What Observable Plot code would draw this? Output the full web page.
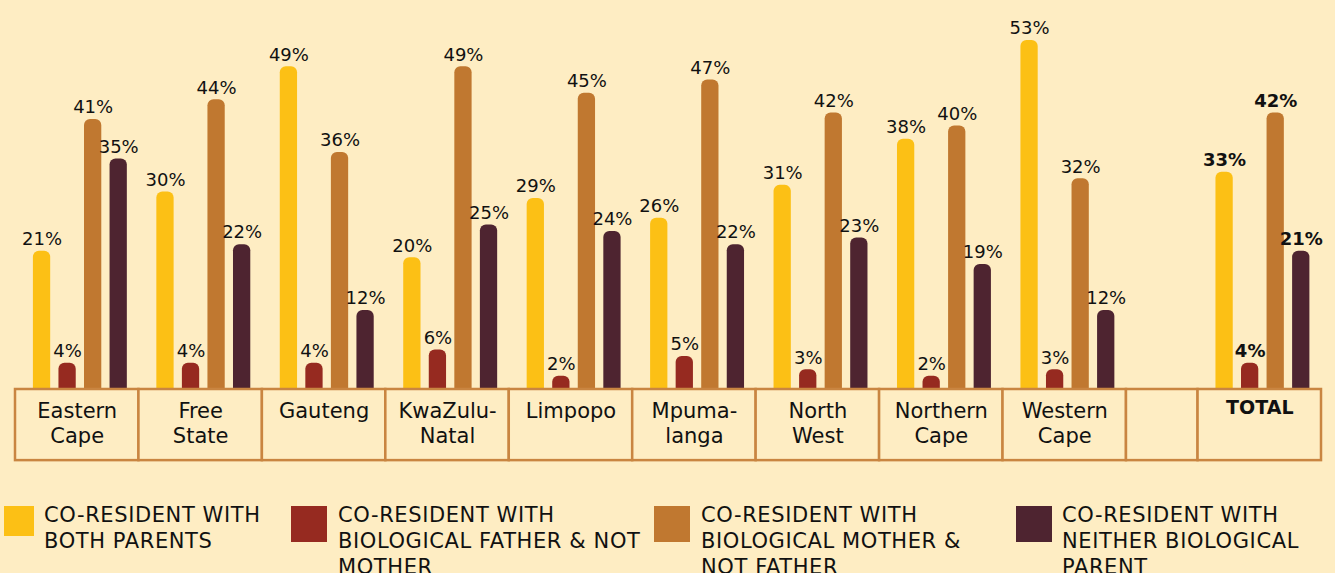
<!DOCTYPE html>
<html><head><meta charset="utf-8">
<script src="https://cdn.jsdelivr.net/npm/d3@7"></script>
<script src="https://cdn.jsdelivr.net/npm/@observablehq/plot@0.6"></script>
<style>
html,body{margin:0;padding:0;background:#FEEDC3;}
body{width:1335px;height:573px;overflow:hidden;font-family:"DejaVu Sans",sans-serif;}
#chart svg{display:block;}
#legend{position:relative;height:110px;margin-top:32px;}
.item{position:absolute;top:0;display:flex;align-items:flex-start;}
.sw{width:36px;height:36px;margin-top:4px;flex:none;}
.lab{font-size:21px;letter-spacing:0.6px;line-height:26px;white-space:pre-line;color:#111;}
</style></head><body>
<div id="chart"></div><div id="legend"></div>
<script>
const regions = ["Eastern Cape","Free State","Gauteng","KwaZulu-Natal","Limpopo","Mpumalanga","North West","Northern Cape","Western Cape","TOTAL"];
const regionLabels = ["Eastern\nCape","Free\nState","Gauteng","KwaZulu-\nNatal","Limpopo","Mpuma-\nlanga","North\nWest","Northern\nCape","Western\nCape","TOTAL"];
const seriesNames = ["CO-RESIDENT WITH\nBOTH PARENTS","CO-RESIDENT WITH\nBIOLOGICAL FATHER & NOT\nMOTHER","CO-RESIDENT WITH\nBIOLOGICAL MOTHER &\nNOT FATHER","CO-RESIDENT WITH\nNEITHER BIOLOGICAL\nPARENT"];
const seriesColors = ["#FCC015","#962A20","#C07830","#4E2430"];
const bothParents = [21,30,49,20,29,26,31,38,53,33];
const fatherOnly  = [4,4,4,6,2,5,3,2,3,4];
const motherOnly  = [41,44,36,49,45,47,42,40,32,42];
const neither     = [35,22,12,25,24,22,23,19,12,21];
const seriesValues = [bothParents, fatherOnly, motherOnly, neither];

const BG = "#FEEDC3";
const FONT = "DejaVu Sans, sans-serif";
const gapWidth = 0.58;
const columns = [...regionLabels.slice(0, 9), "", regionLabels[9]];
let acc = 0;
const cells = columns.map(label => {
  const w = label === "" ? gapWidth : 1;
  const c = {label, x1: acc, x2: acc + w, mid: acc + w / 2};
  acc += w;
  return c;
});
const totalUnits = acc;
const regionCells = cells.filter(c => c.label !== "");
const bars = [];
regionCells.forEach((cell, r) => {
  seriesNames.forEach((s, k) => {
    const center = cell.x1 + 0.215 + 0.207 * k;
    bars.push({region: regions[r], series: s, value: seriesValues[k][r], xc: center,
      x1: center - 0.07, x2: center + 0.07, total: regions[r] === "TOTAL"});
  });
});

const chart = Plot.plot({
  width: 1335, height: 470, margin: 0,
  style: {background: "transparent", fontFamily: FONT, color: "#111"},
  x: {domain: [0, totalUnits], range: [15, 1321], axis: null},
  y: {domain: [0, 53], range: [389, 40], axis: null},
  color: {domain: seriesNames, range: seriesColors},
  marks: [
    Plot.rect(bars, {x1: "x1", x2: "x2", y1: -2, y2: "value", fill: "series", rx: 6}),
    Plot.rect(cells, {x1: "x1", x2: "x2", y1: 0, y2: -10.8, fill: BG, stroke: "#C98541", strokeWidth: 2.5}),
    Plot.text(cells.filter(c => c.label !== "TOTAL"), {x: "mid", y: -1.6, text: "label", lineAnchor: "top", fontSize: 21, lineHeight: 1.2, fill: "#111"}),
    Plot.text(cells.filter(c => c.label === "TOTAL"), {x: "mid", y: -1.6, text: "label", lineAnchor: "top", fontSize: 19, fontWeight: "bold", fill: "#111"}),
    Plot.text(bars.filter(d => !d.total), {x: "xc", y: "value", text: d => d.value + "%", dy: -12, fontSize: 18, fill: "#111"}),
    Plot.text(bars.filter(d => d.total), {x: "xc", y: "value", text: d => d.value + "%", dy: -12, fontSize: 18, fontWeight: "bold", fill: "#111"})
  ]
});
document.getElementById("chart").appendChild(chart);

const legendLeft = [4, 291, 654, 1016];
const swatchSize = [30, 36, 36, 36];
const textLeft = [44, 338, 701, 1062];
const legend = document.getElementById("legend");
seriesNames.forEach((name, i) => {
  const sw = document.createElement("div");
  sw.className = "sw";
  sw.style.cssText = `position:absolute;left:${legendLeft[i]}px;top:0;width:${swatchSize[i]}px;height:${swatchSize[i] === 30 ? 30 : 36}px;background:${seriesColors[i]};`;
  const lab = document.createElement("div");
  lab.className = "lab";
  lab.style.cssText = `position:absolute;left:${textLeft[i]}px;top:0;`;
  lab.textContent = name;
  legend.appendChild(sw); legend.appendChild(lab);
});
</script>
</body></html>
